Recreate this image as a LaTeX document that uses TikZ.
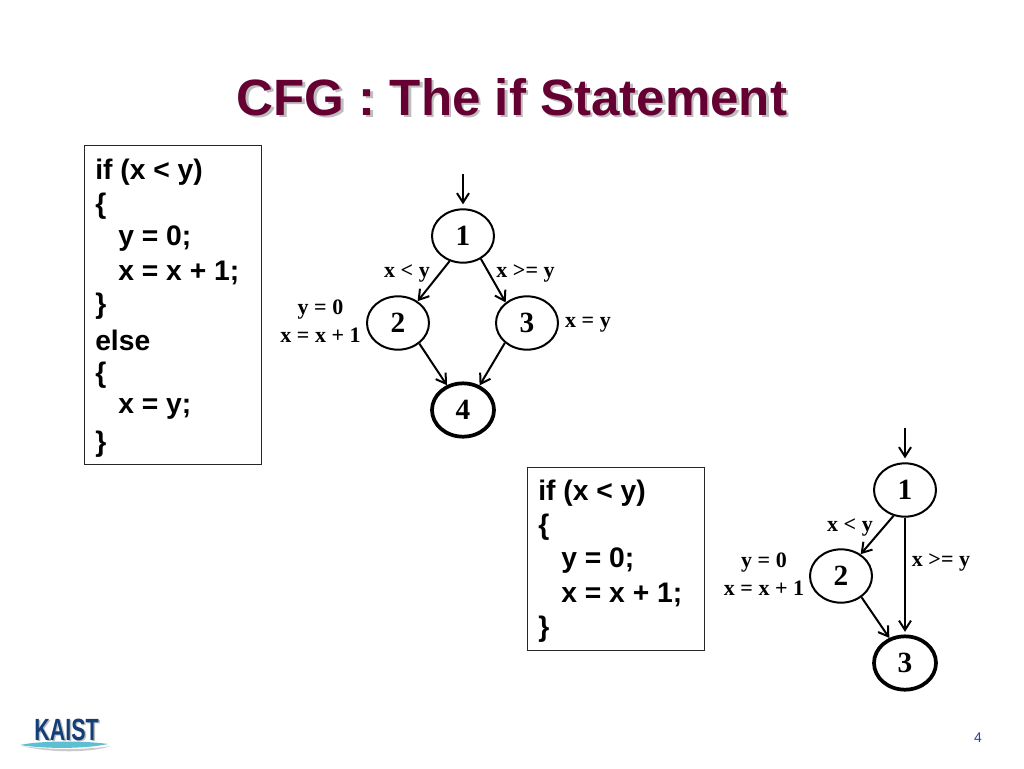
\documentclass[tikz,border=0pt]{standalone}
\usepackage{fontspec}
\setmainfont{Liberation Serif}
\newfontfamily\arialf{Liberation Sans}
\usetikzlibrary{shapes.geometric,arrows.meta}
\definecolor{titlecol}{HTML}{660033}
\definecolor{shadowcol}{HTML}{BDBDBD}
\definecolor{kaistblue}{HTML}{123F78}
\definecolor{swoosh}{HTML}{5CC0D2}
\definecolor{pagenum}{HTML}{2A3F9A}
\tikzset{
  x=0.75pt,y=-0.75pt,
  cfgnode/.style={draw=black,ellipse,line width=1.5pt,minimum width=46.5pt,minimum height=40pt,inner sep=0pt,font=\fontsize{22}{22}\selectfont\bfseries},
  exitnode/.style={cfgnode,line width=2.8pt},
  edge/.style={draw=black,line width=1.5pt,-{Straight Barb[length=7pt,width=9pt,line width=1.5pt]}},
  cond/.style={font=\fontsize{16.5}{21}\selectfont\bfseries,align=center,inner sep=0pt},
  boxline/.style={draw=black!85,line width=0.75pt},
  code/.style={anchor=west,inner sep=0pt,font=\arialf\fontsize{21.2}{21.2}\selectfont\bfseries},
  titletext/.style={inner sep=0pt,font=\arialf\fontsize{38.3}{38.3}\selectfont\bfseries}
}
\begin{document}
\begin{tikzpicture}
\useasboundingbox (0,0) rectangle (1024,768);
\fill[white] (0,0) rectangle (1024,768);
% title
\node[titletext,text=shadowcol] (titleshadow) at (514.5,99.5) {CFG : The if Statement};
\node[titletext,text=titlecol] (title) at (512,97) {CFG : The if Statement};
% first code box
\draw[boxline] (84,145) rectangle (261,464);
\node[code] (a1) at (95,172) {if (x < y)};
\node[code] (a2) at (95,206) {\{};
\node[code] (a3) at (118,239) {y = 0;};
\node[code] (a4) at (118,273) {x = x + 1;};
\node[code] (a5) at (95,306) {\}};
\node[code] (a6) at (95,340) {else};
\node[code] (a7) at (95,375) {\{};
\node[code] (a8) at (118,409) {x = y;};
\node[code] (a9) at (95,444) {\}};
% second code box
\draw[boxline] (527,467) rectangle (704,650);
\node[code] (b1) at (538,493) {if (x < y)};
\node[code] (b2) at (538,527) {\{};
\node[code] (b3) at (561,561) {y = 0;};
\node[code] (b4) at (561,595) {x = x + 1;};
\node[code] (b5) at (538,629) {\}};
% first graph
\node[cfgnode] (n1) at (463,236) {1};
\node[cfgnode] (n2) at (398,323) {2};
\node[cfgnode] (n3) at (527,323) {3};
\node[exitnode] (n4) at (463,410) {4};
\coordinate (start1) at (463,174);
\draw[edge] (start1) -- ([yshift=3pt]n1.north);
\draw[edge] (n1.242) -- (n2.48);
\draw[edge] (n1.-52) -- (n3.136);
\draw[edge] (n2.-44) -- (n4.123);
\draw[edge] (n3.222) -- (n4.56);
\node[cond] (c1) at (407,273) {x < y};
\node[cond] (c2) at (525.5,273) {x >= y};
\node[cond] (c3) at (320.5,321) {y = 0\\x = x + 1};
\node[cond] (c4) at (588,325) {x = y};
% second graph
\node[cfgnode] (m1) at (905,490) {1};
\node[cfgnode] (m2) at (841,576) {2};
\node[exitnode] (m3) at (905,663) {3};
\coordinate (start2) at (905,428);
\draw[edge] (start2) -- ([yshift=3pt]m1.north);
\draw[edge] (m1.246) -- (m2.48);
\draw[edge] (m1.south) -- ([yshift=2pt]m3.north);
\draw[edge] (m2.-46) -- (m3.122);
\node[cond] (d1) at (850,527) {x < y};
\node[cond] (d2) at (941,562) {x >= y};
\node[cond] (d3) at (764,574) {y = 0\\x = x + 1};
% logo
\fill[shadowcol!80] (22,746) .. controls (50,753) and (90,753) .. (111,746) .. controls (85,750) and (50,750) .. (22,746) -- cycle;
\fill[swoosh] (20,745) .. controls (40,740.5) and (85,740.5) .. (108,744) .. controls (85,749) and (45,749) .. (20,745) -- cycle;
\node[inner sep=0pt,text=shadowcol,xscale=0.7,font=\arialf\fontsize{23}{23}\selectfont\bfseries] (logoshadow) at (68,731) {KAIST};
\node[inner sep=0pt,text=kaistblue,xscale=0.7,font=\arialf\fontsize{23}{23}\selectfont\bfseries] (logo) at (66.5,730) {KAIST};
% page number
\node[inner sep=0pt,text=pagenum,font=\arialf\fontsize{10.5}{12}\selectfont] (page) at (978,738) {4};
\end{tikzpicture}
\end{document}
